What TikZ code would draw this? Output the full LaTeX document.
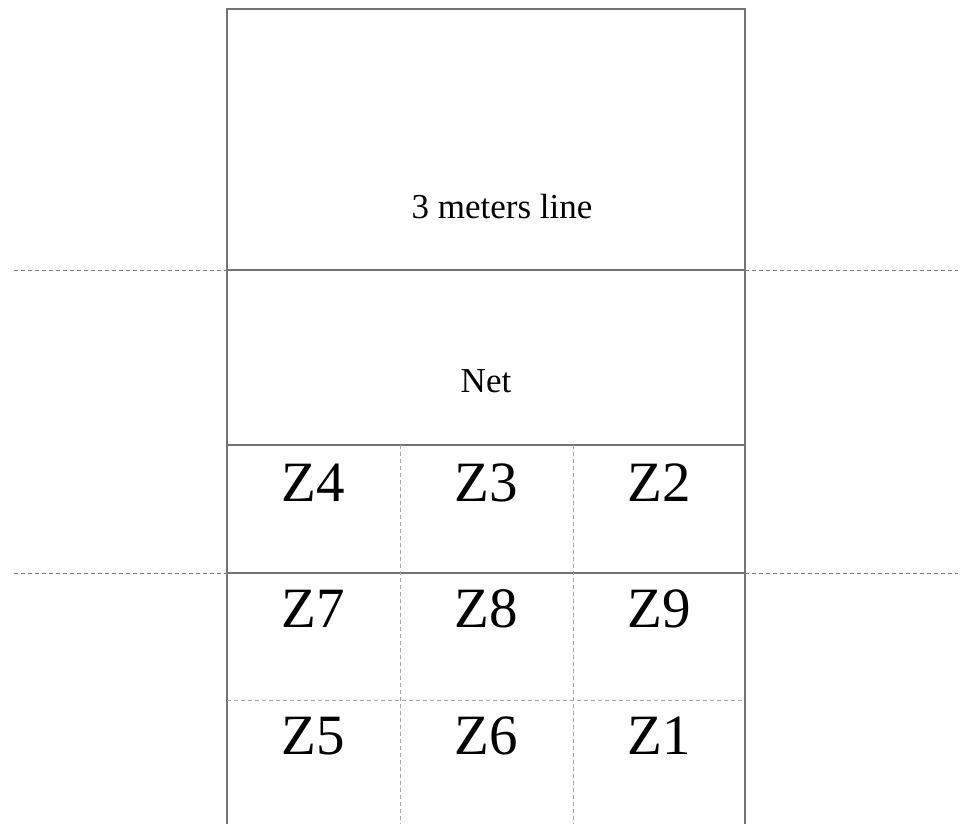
\documentclass[tikz,border=0pt]{standalone}
\usepackage{fontspec}
\setmainfont{Liberation Serif}
\begin{document}
\begin{tikzpicture}[x=1pt,y=-1pt,
  solidline/.style={draw=black!55,line width=1.6pt},
  dashline/.style={draw=black!50,line width=1pt,dash pattern=on 4pt off 3pt},
  thindash/.style={draw=black!35,line width=0.9pt,dash pattern=on 4pt off 3pt},
  smalltext/.style={font=\fontsize{35}{40}\selectfont,anchor=base,inner sep=0pt},
  zonetext/.style={font=\fontsize{57}{62}\selectfont,anchor=base,inner sep=0pt}]
\useasboundingbox (0,0) rectangle (961,824);
% court
\draw[solidline] (227,826) -- (227,9) -- (745,9) -- (745,826);
\draw[solidline] (227,270) -- (745,270);
\draw[solidline] (227,445) -- (745,445);
\draw[solidline] (227,573) -- (745,573);
% outside dashed extensions
\draw[dashline] (14,270) -- (227,270);
\draw[dashline] (745,270) -- (958,270);
\draw[dashline] (14,573) -- (227,573);
\draw[dashline] (745,573) -- (958,573);
% inner dashed grid
\draw[thindash] (400,445) -- (400,826);
\draw[thindash] (573,445) -- (573,826);
\draw[thindash] (227,700) -- (745,700);
% labels
\node[smalltext] (line3) at (502,218) {3 meters line};
\node[smalltext] (net) at (486,392) {Net};
\node[zonetext] (z4) at (313,501) {Z4};
\node[zonetext] (z3) at (486,501) {Z3};
\node[zonetext] (z2) at (659,501) {Z2};
\node[zonetext] (z7) at (313,627) {Z7};
\node[zonetext] (z8) at (486,627) {Z8};
\node[zonetext] (z9) at (659,627) {Z9};
\node[zonetext] (z5) at (313,754) {Z5};
\node[zonetext] (z6) at (486,754) {Z6};
\node[zonetext] (z1) at (659,754) {Z1};
\end{tikzpicture}
\end{document}
